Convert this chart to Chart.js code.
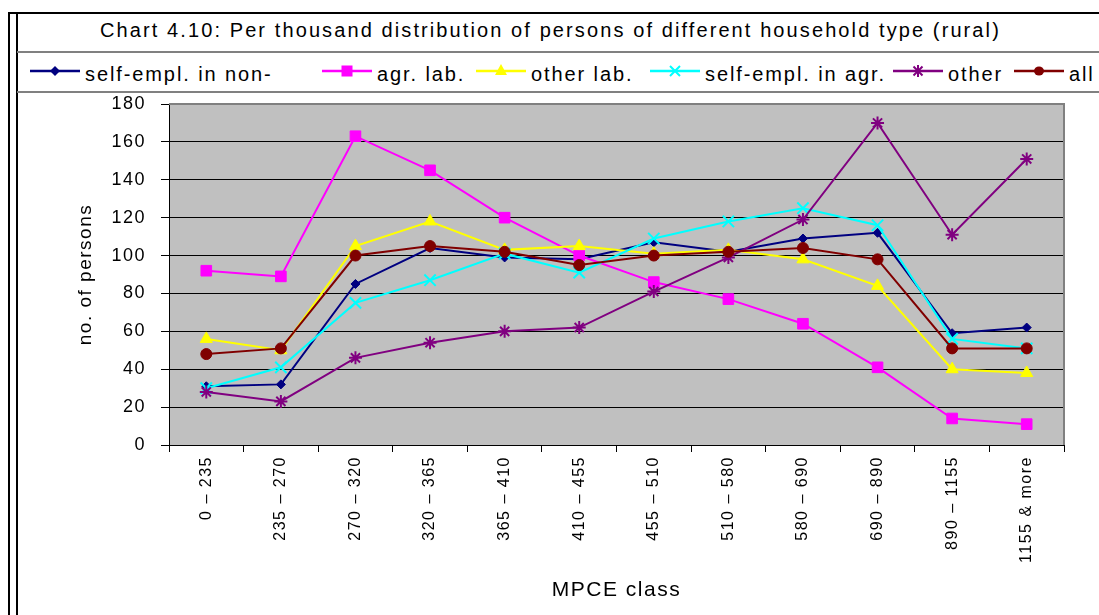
<!DOCTYPE html>
<html>
<head>
<meta charset="utf-8">
<script src="https://cdn.jsdelivr.net/npm/chart.js@4/dist/chart.umd.min.js"></script>
<style>
  html, body { margin: 0; padding: 0; background: #fff; }
  body { width: 1099px; height: 615px; position: relative; overflow: hidden; font-family: "Liberation Sans", Arial, sans-serif; color: #000; }
  .frame { position: absolute; background: #000; }
  .sep { position: absolute; left: 17px; right: 0; height: 2px; background: #808080; }
  #title { position: absolute; left: 100px; top: 20px; font-size: 20px; line-height: 20px; letter-spacing: 2.1px; white-space: nowrap; }
  .lg-icon { position: absolute; top: 61px; }
  .lg-text { position: absolute; top: 64px; font-size: 20px; line-height: 20px; letter-spacing: 1.9px; white-space: nowrap; }
  #chart { position: absolute; left: 0; top: 0; }
</style>
</head>
<body>
<div class="frame" style="left:8px;top:12px;width:2px;height:603px"></div>
<div class="frame" style="left:16px;top:12px;width:2px;height:603px"></div>
<div class="frame" style="left:8px;top:12px;right:0;height:2px"></div>
<div class="sep" style="top:51px"></div>
<div class="sep" style="top:91px"></div>
<div id="title">Chart 4.10: Per thousand distribution of persons of different household type (rural)</div>
<div id="legend"></div>
<canvas id="chart" width="1099" height="615"></canvas>
<script>
// MPCE classes (x axis)
const classes = ["0 – 235", "235 – 270", "270 – 320", "320 – 365", "365 – 410", "410 – 455",
  "455 – 510", "510 – 580", "580 – 690", "690 – 890", "890 – 1155", "1155 & more"];

// per thousand persons
const selfNonAgr = [31, 32, 85, 104, 99, 98, 107, 102, 109, 112, 59, 62];
const agrLab     = [92, 89, 163, 145, 120, 100, 86, 77, 64, 41, 14, 11];
const otherLab   = [56, 50, 105, 118, 103, 105, 101, 103, 98, 84, 40, 38];
const selfAgr    = [30, 41, 75, 87, 101, 91, 109, 118, 125, 116, 56, 51];
const other      = [28, 23, 46, 54, 60, 62, 81, 99, 119, 170, 111, 151];
const allTypes   = [48, 51, 100, 105, 102, 95, 100, 102, 104, 98, 51, 51];

const yTicks = { min: 0, max: 180, step: 20 };

// ---- styling (kept apart from the data) ----
const series = [
  { name: "self-empl. in non-", data: selfNonAgr, color: "#000080", style: "rectRot", r: 4.5 },
  { name: "agr. lab.", data: agrLab, color: "#ff00ff", style: "rect", r: 7.5 },
  { name: "other lab.", data: otherLab, color: "#ffff00", style: "triangle", r: 7 },
  { name: "self-empl. in agr.", data: selfAgr, color: "#00ffff", style: "crossRot", r: 8 },
  { name: "other", data: other, color: "#800080", style: "star", r: 6.5 },
  { name: "all", data: allTypes, color: "#800000", style: "circle", r: 5.5 },
];
const legendLeft = [30, 322, 476, 650, 893, 1014];

// small svg marker for the legend row
function legendIcon(s) {
  const c = s.color, cx = 25, cy = 10;
  let m = "";
  if (s.style === "rectRot") m = `<polygon points="${cx - 5},${cy} ${cx},${cy - 5} ${cx + 5},${cy} ${cx},${cy + 5}" fill="${c}"/>`;
  if (s.style === "rect") m = `<rect x="${cx - 5.5}" y="${cy - 5.5}" width="11" height="11" fill="${c}"/>`;
  if (s.style === "triangle") m = `<polygon points="${cx},${cy - 7} ${cx + 6},${cy + 4} ${cx - 6},${cy + 4}" fill="${c}"/>`;
  if (s.style === "crossRot") m = `<path d="M${cx - 5} ${cy - 5}L${cx + 5} ${cy + 5}M${cx + 5} ${cy - 5}L${cx - 5} ${cy + 5}" stroke="${c}" stroke-width="2"/>`;
  if (s.style === "star") m = `<path d="M${cx - 4.5} ${cy - 4.5}L${cx + 4.5} ${cy + 4.5}M${cx + 4.5} ${cy - 4.5}L${cx - 4.5} ${cy + 4.5}M${cx} ${cy - 6}L${cx} ${cy + 6}" stroke="${c}" stroke-width="2"/>`;
  if (s.style === "circle") m = `<ellipse cx="${cx}" cy="${cy}" rx="5" ry="4.5" fill="${c}"/>`;
  return `<svg width="50" height="20"><line x1="0" y1="${cy}" x2="50" y2="${cy}" stroke="${c}" stroke-width="2.5"/>${m}</svg>`;
}

document.getElementById("legend").innerHTML = series.map((s, i) =>
  `<div class="lg-icon" style="left:${legendLeft[i]}px">${legendIcon(s)}</div>` +
  `<div class="lg-text" style="left:${legendLeft[i] + 55}px">${s.name}</div>`).join("");

// grey plot area + grey top/right frame like the spreadsheet chart
const plotArea = {
  id: "plotArea",
  beforeDraw(chart) {
    const { ctx, chartArea: a } = chart;
    ctx.save();
    ctx.fillStyle = "#c0c0c0";
    ctx.fillRect(a.left, a.top, a.right - a.left, a.bottom - a.top);
    ctx.restore();
    ctx.letterSpacing = "1.5px";
  },
  beforeDatasetsDraw(chart) {
    const { ctx, chartArea: a } = chart;
    ctx.save();
    ctx.strokeStyle = "#808080";
    ctx.lineWidth = 2;
    ctx.beginPath();
    ctx.moveTo(a.left, a.top);
    ctx.lineTo(a.right, a.top);
    ctx.lineTo(a.right, a.bottom);
    ctx.stroke();
    ctx.restore();
  },
};

Chart.defaults.font.family = '"Liberation Sans", Arial, sans-serif';
Chart.defaults.color = "#000";

new Chart(document.getElementById("chart"), {
  type: "line",
  data: {
    labels: classes,
    datasets: series.map((s, i) => ({
      label: s.name,
      data: s.data,
      borderColor: s.color,
      backgroundColor: s.color,
      borderWidth: 2,
      tension: 0,
      pointStyle: s.style,
      pointRadius: s.r,
      pointBorderWidth: s.style === "crossRot" || s.style === "star" ? 2 : 1,
      pointBorderColor: s.color,
      pointBackgroundColor: s.color,
      order: series.length - i,
    })),
  },
  options: {
    responsive: false,
    animation: false,
    devicePixelRatio: 1,
    layout: { padding: { top: 104, right: 35, left: 70, bottom: 8 } },
    plugins: { legend: { display: false }, tooltip: { enabled: false } },
    scales: {
      x: {
        offset: true,
        ticks: { autoSkip: false, minRotation: 90, maxRotation: 90, padding: 4, font: { size: 16 } },
        grid: { offset: true, drawOnChartArea: false, tickLength: 7, color: "#000" },
        border: { color: "#000" },
        title: { display: true, text: "MPCE class", font: { size: 21 } },
        afterFit(s) { s.height = 162; },
      },
      y: {
        min: yTicks.min,
        max: yTicks.max,
        ticks: { stepSize: yTicks.step, padding: 15, font: { size: 18 } },
        grid: { color: "#000", tickLength: 8 },
        border: { color: "#000" },
        title: { display: true, text: "no. of persons", font: { size: 19 } },
        afterFit(s) { s.width = 99; },
      },
    },
  },
  plugins: [plotArea],
});
</script>
</body>
</html>
